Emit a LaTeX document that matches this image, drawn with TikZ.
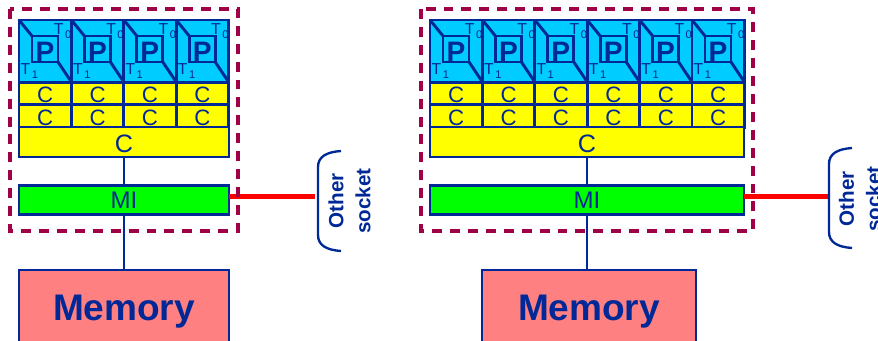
\documentclass[tikz,border=0pt]{standalone}
\usepackage{fontspec}
\setmainfont{Liberation Sans}
\definecolor{ln}{RGB}{0,40,150}
\definecolor{cpublue}{RGB}{0,204,255}
\definecolor{memred}{RGB}{255,128,128}
\definecolor{dashred}{RGB}{160,0,70}
\definecolor{cacheyellow}{RGB}{255,255,0}
\definecolor{migreen}{RGB}{0,255,0}
\definecolor{linkred}{RGB}{255,0,0}
\tikzset{
  box/.style={draw=ln,line width=2.5pt,inner sep=0pt,outer sep=0pt,text=ln},
  corebox/.style={box,fill=cpublue,minimum width=1.572cm,minimum height=1.86cm},
  pbox/.style={box,minimum size=0.78cm,text height=21pt,font=\fontsize{24}{24}\selectfont\bfseries},
  cell/.style={box,fill=cacheyellow,minimum width=1.572cm,minimum height=0.675cm,text height=16pt,font=\fontsize{19}{19}\selectfont},
  bigcell/.style={box,fill=cacheyellow,minimum height=0.9cm,text height=18pt,font=\fontsize{21.5}{21.5}\selectfont},
  mibox/.style={box,fill=migreen,minimum height=0.87cm,font=\fontsize{20.5}{20.5}\selectfont},
  membox/.style={box,fill=memred,minimum height=2.52cm,font=\fontsize{31.6}{31.6}\selectfont\bfseries},
  thread/.style={inner sep=0pt,text=ln,font=\fontsize{13.5}{13.5}\selectfont},
  sockettext/.style={inner sep=0pt,text=ln,rotate=90,align=center,font=\fontsize{17.6}{23}\selectfont\bfseries},
  wire/.style={draw=ln,line width=2.5pt},
  socketline/.style={draw=linkred,line width=4.5pt},
  bracket/.style={draw=ln,line width=2pt},
  package/.style={draw=dashred,line width=2.8pt,dash pattern=on 8.5pt off 6.8pt}
}
\newcommand{\tsub}[2]{#1\hspace{1.3pt}\raisebox{-3.2pt}{\fontsize{9.5}{9.5}\selectfont #2}}
% one core with its two private caches
\newcommand{\corecol}[2]{
  \begin{scope}[shift={(#2,0)}]
    \node[corebox] (core#1) at (26.2,51) {};
    \node[pbox] (P#1) at (26,49) {P};
    \draw[wire] (core#1.north west) -- (P#1.north west);
    \draw[wire] (P#1.south east) -- (core#1.south east);
    \node[thread] (Tz#1) at (43.6,31) {\tsub{T}{0}};
    \node[thread] (To#1) at (10.4,70.8) {\tsub{T}{1}};
    \node[cell] (Ca#1) at (26.2,93.5) {C};
    \node[cell] (Cb#1) at (26.2,116) {C};
  \end{scope}
}
\begin{document}
\begin{tikzpicture}[x=0.03cm,y=-0.03cm]
  \useasboundingbox (0,0) rectangle (878,341);
  \clip (0,0) rectangle (878,341);

  % left socket
  \foreach \i in {0,...,3} {
    \pgfmathsetmacro{\xl}{19+52.4*\i}
    \corecol{L\i}{\xl}
  }
  \node[bigcell,minimum width=6.3cm] (CL) at (124,142) {C};
  \node[mibox,minimum width=6.3cm] (MIL) at (124,200) {MI};
  \node[membox,minimum width=6.3cm] (MemL) at (124,312) {Memory};
  \draw[wire] (CL) -- (MIL);
  \draw[wire] (MIL) -- (MemL);

  \coordinate (SL) at (314.5,196.5);
  \draw[socketline] (MIL.east |- SL) -- (SL);
  \draw[bracket] (341,151) .. controls (326,152) and (318,157) .. (318,167) -- (318,235) .. controls (318,245) and (326,250) .. (341,251);
  \node[sockettext] (OL) at (349.5,201) {Other\\socket};
  \draw[package] (10,9) rectangle (238,231);

  % right socket
  \foreach \i in {0,...,5} {
    \pgfmathsetmacro{\xr}{430+52.4*\i}
    \corecol{R\i}{\xr}
  }
  \node[bigcell,minimum width=9.42cm] (CR) at (587,142) {C};
  \node[mibox,minimum width=9.42cm] (MIR) at (587,200) {MI};
  \node[membox,minimum width=6.42cm] (MemR) at (589,312) {Memory};
  \draw[wire] (CR) -- (MIR);
  \draw[wire] (MIR.south) -- (MIR.south |- MemR.north);

  \coordinate (SR) at (828,196.5);
  \draw[socketline] (MIR.east |- SR) -- (SR);
  \draw[bracket] (852,148) .. controls (837,149) and (829,154) .. (829,164) -- (829,232) .. controls (829,242) and (837,247) .. (852,248);
  \node[sockettext] (OR) at (860,199) {Other\\socket};
  \draw[package] (421,9) rectangle (753,231);
\end{tikzpicture}
\end{document}
